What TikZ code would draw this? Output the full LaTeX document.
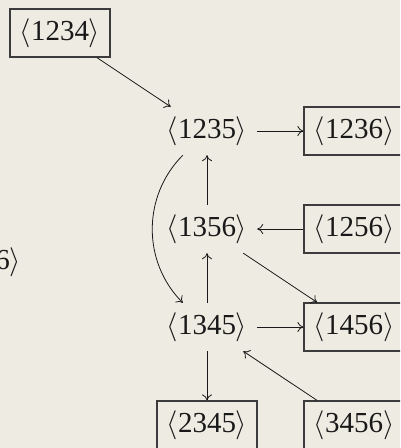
\RequirePackage{fix-cm}
\documentclass[tikz,border=0pt]{standalone}
\usepackage{fontspec}
\setmainfont{Liberation Serif}
\usetikzlibrary{arrows.meta}
\definecolor{bgc}{RGB}{237,235,226}
\definecolor{ink}{RGB}{25,25,25}
\definecolor{frame}{RGB}{60,60,60}
\tikzset{
  lbl/.style={minimum width=100pt, minimum height=48pt, inner sep=0pt, text=ink,
    font=\fontsize{29}{34}\selectfont},
  boxed/.style={lbl, draw=frame, line width=1.2pt},
  arr/.style={draw=ink, line width=0.8pt, -{To[length=6pt,width=10pt]}}
}
\newcommand{\ang}[1]{$\langle$#1$\rangle$}
\begin{document}
\begin{tikzpicture}[x=1pt,y=-1pt]
\useasboundingbox (0,0) rectangle (400,448);
\fill[bgc] (0,0) rectangle (400,448);
\clip (0,0) rectangle (400,448);
\node[boxed] (a1234) at (60,33) {\ang{1234}};
\node[lbl] (a1235) at (207,131) {\ang{1235}};
\node[boxed] (a1236) at (354,131) {\ang{1236}};
\node[lbl] (a1356) at (207,229) {\ang{1356}};
\node[boxed] (a1256) at (354,229) {\ang{1256}};
\node[lbl] (a1345) at (207,327) {\ang{1345}};
\node[boxed] (a1456) at (354,327) {\ang{1456}};
\node[boxed] (a2345) at (207,425) {\ang{2345}};
\node[boxed] (a3456) at (354,425) {\ang{3456}};
\node[lbl] (a2456) at (-19,262) {\ang{2456}};
\draw[arr] (a1234) -- (a1235);
\draw[arr] (a1235) -- (a1236);
\draw[arr] (a1356) -- (a1235);
\draw[arr] (a1256) -- (a1356);
\draw[arr] (a1345) -- (a1356);
\draw[arr] (a1235) to[bend right=45] (a1345);
\draw[arr] (a1356) -- (a1456);
\draw[arr] (a1345) -- (a1456);
\draw[arr] (a1345) -- (a2345);
\draw[arr] (a3456) -- (a1345);
\end{tikzpicture}
\end{document}
